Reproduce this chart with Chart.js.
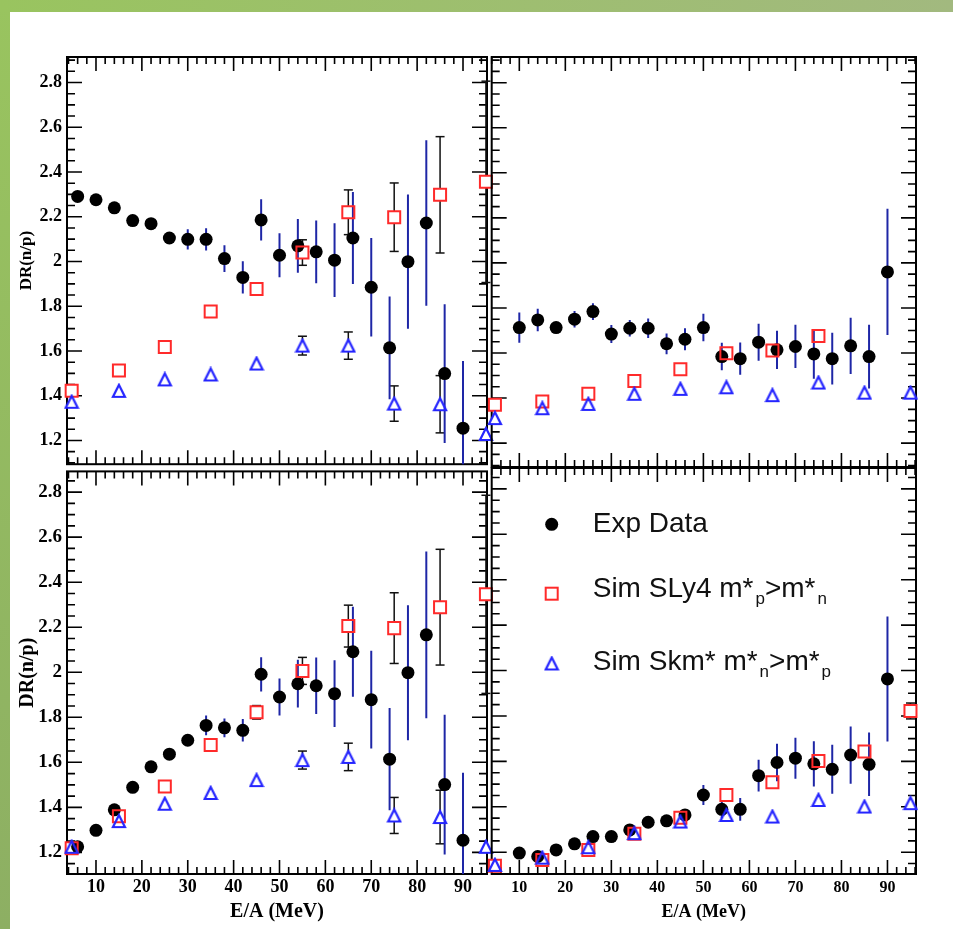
<!DOCTYPE html>
<html>
<head>
<meta charset="utf-8">
<title>DR(n/p) vs E/A</title>
<script src="https://cdn.jsdelivr.net/npm/chart.js@4.4.1/dist/chart.umd.min.js"></script>
<style>
  body { margin: 0; background: #fff; width: 953px; height: 929px; position: relative; overflow: hidden; }
  .band-left { position: absolute; left: 0; top: 0; width: 10px; height: 929px; background: linear-gradient(#99c45f, #8daf63); }
  .band-top { position: absolute; left: 0; top: 0; width: 953px; height: 12px; background: linear-gradient(to right, #99c45f, #a2b97f); }
  canvas { position: absolute; }
</style>
</head>
<body>
<div class="band-left"></div>
<div class="band-top"></div>
<canvas id="tl" width="500" height="440" style="left:0;top:40px"></canvas>
<canvas id="tr" width="473" height="440" style="left:480px;top:40px"></canvas>
<canvas id="bl" width="500" height="474" style="left:0;top:455px"></canvas>
<canvas id="br" width="473" height="474" style="left:480px;top:455px"></canvas>
<script>
// beam energies (MeV/nucleon)
const expEnergy = [6, 10, 14, 18, 22, 26, 30, 34, 38, 42, 46, 50, 54, 58, 62, 66, 70, 74, 78, 82, 86, 90];
const simEnergy = [4.7, 15, 25, 35, 45, 55, 65, 75, 85, 95];

const xTickValues = [10, 20, 30, 40, 50, 60, 70, 80, 90];
const xTickLabels = ['10', '20', '30', '40', '50', '60', '70', '80', '90'];
const yTickValues = [1.2, 1.4, 1.6, 1.8, 2.0, 2.2, 2.4, 2.6, 2.8];
const yTickLabels = ['1.2', '1.4', '1.6', '1.8', '2', '2.2', '2.4', '2.6', '2.8'];

// top left
const expTL = [2.291, 2.276, 2.240, 2.183, 2.169, 2.105, 2.099, 2.099, 2.013, 1.929, 2.186, 2.028, 2.070, 2.043, 2.006, 2.105, 1.885, 1.614, 1.999, 2.172, 1.499, 1.255];
const expErrTL = [0.02, 0.02, 0.02, 0.02, 0.02, 0.02, 0.045, 0.05, 0.06, 0.072, 0.092, 0.098, 0.12, 0.14, 0.165, 0.206, 0.22, 0.23, 0.30, 0.37, 0.31, 0.30];
const sly4TL = [1.422, 1.513, 1.618, 1.777, 1.877, 2.040, 2.220, 2.198, 2.298, 2.356];
const sly4ErrTL = [0, 0, 0, 0, 0.025, 0.057, 0.10, 0.153, 0.26, 0.45];
const skmTL = [1.373, 1.422, 1.473, 1.495, 1.544, 1.624, 1.624, 1.365, 1.362, 1.229];
const skmErrTL = [0, 0, 0, 0, 0, 0.042, 0.061, 0.079, 0.128, 0];

// top right
const expTR = [null, 1.713, 1.747, 1.713, 1.750, 1.784, 1.684, 1.710, 1.710, 1.641, 1.661, 1.713, 1.584, 1.575, 1.648, 1.614, 1.629, 1.596, 1.575, 1.632, 1.584, 1.960];
const expErrTR = [0, 0.067, 0.05, 0.02, 0.037, 0.037, 0.04, 0.037, 0.043, 0.046, 0.049, 0.061, 0.061, 0.072, 0.082, 0.085, 0.096, 0.11, 0.115, 0.125, 0.142, 0.28];
const sly4TR = [1.370, 1.385, 1.419, 1.476, 1.528, 1.599, 1.611, 1.676, null, null];
const skmTR = [1.311, 1.355, 1.374, 1.419, 1.441, 1.448, 1.413, 1.469, 1.424, 1.424];

// bottom left
const expBL = [1.225, 1.298, 1.389, 1.489, 1.580, 1.636, 1.698, 1.764, 1.753, 1.742, 1.991, 1.890, 1.949, 1.940, 1.905, 2.091, 1.878, 1.614, 1.998, 2.166, 1.501, 1.254];
const expErrBL = [0.02, 0.02, 0.02, 0.02, 0.02, 0.02, 0.02, 0.044, 0.042, 0.05, 0.076, 0.082, 0.106, 0.125, 0.148, 0.2, 0.217, 0.227, 0.30, 0.37, 0.31, 0.30];
const sly4BL = [1.218, 1.360, 1.493, 1.677, 1.822, 2.006, 2.205, 2.196, 2.289, 2.346];
const sly4ErrBL = [0, 0, 0, 0, 0.03, 0.06, 0.093, 0.157, 0.257, 0.44];
const skmBL = [1.225, 1.339, 1.416, 1.464, 1.521, 1.610, 1.624, 1.364, 1.357, 1.225];
const skmErrBL = [0, 0, 0, 0, 0, 0.04, 0.061, 0.08, 0.119, 0];

// bottom right
const expBR = [null, 1.196, 1.181, 1.210, 1.237, 1.269, 1.269, 1.298, 1.332, 1.338, 1.364, 1.452, 1.389, 1.389, 1.537, 1.595, 1.614, 1.589, 1.565, 1.628, 1.587, 1.963];
const expErrBR = [0, 0.02, 0.02, 0.02, 0.02, 0.02, 0.02, 0.02, 0.02, 0.02, 0.025, 0.044, 0.04, 0.05, 0.07, 0.083, 0.09, 0.1, 0.108, 0.126, 0.14, 0.275];
const sly4BR = [1.140, 1.166, 1.210, 1.281, 1.352, 1.452, 1.508, 1.602, 1.643, 1.822];
const sly4ErrBR = [0, 0, 0, 0, 0, 0, 0, 0, 0, 0.035];
const skmBR = [1.144, 1.176, 1.222, 1.284, 1.335, 1.364, 1.357, 1.430, 1.401, 1.416];

const legendRows = [
    [['Exp Data', false]],
    [['Sim SLy4 m*', false], ['p', true], ['>m*', false], ['n', true]],
    [['Sim Skm* m*', false], ['n', true], ['>m*', false], ['p', true]]
];

const SERIF = "'Liberation Serif', 'Times New Roman', serif";
const SANS = "'Liberation Sans', Arial, Helvetica, sans-serif";
const EXP_ERR = '#1e26a6';
const SLY4 = '#ff2a2a';
const SKM = '#2525ff';

// ROOT style open triangle, centred on its bounding box
function triangleImage(fill) {
    const c = document.createElement('canvas');
    c.width = 16; c.height = 16;
    const g = c.getContext('2d');
    g.beginPath();
    g.moveTo(8, 2); g.lineTo(14, 14); g.lineTo(2, 14); g.closePath();
    if (fill) {
        g.fillStyle = '#fff';
        g.fill();
    } else {
        g.strokeStyle = SKM;
        g.lineWidth = 2.2;
        g.stroke();
    }
    return c;
}
const triOpen = triangleImage(false);
const triFill = triangleImage(true);

function points(xs, ys) {
    return xs.map((x, i) => ({ x: x, y: ys[i] })).filter(p => p.y != null);
}

function errorBars(xs, ys, errs) {
    const out = [];
    xs.forEach((x, i) => {
        if (ys[i] == null || !errs[i]) return;
        out.push({ x: x, y: ys[i] - errs[i] }, { x: x, y: ys[i] + errs[i] }, { x: x, y: null });
    });
    return out;
}

function padSets(exp, expErr, sly4, sly4Err, skm, skmErr) {
    const sets = [
        { data: errorBars(expEnergy, exp, expErr), showLine: true, borderColor: EXP_ERR, borderWidth: 2, pointRadius: 0, clip: 0, order: 4 },
        { data: points(expEnergy, exp), pointStyle: 'circle', pointRadius: 6.5, pointBackgroundColor: '#000', pointBorderColor: '#000', pointBorderWidth: 0, clip: false, order: 3 },
        // white fills keep the error lines out of the open markers
        { data: points(simEnergy, sly4), pointStyle: 'rect', pointRadius: 8.5, pointBackgroundColor: '#fff', pointBorderWidth: 0, clip: false, order: 5 },
        { data: points(simEnergy, skm), pointStyle: triFill, pointRadius: 7, clip: false, order: 5 },
        { data: points(simEnergy, sly4), pointStyle: 'rect', pointRadius: 8.5, pointBackgroundColor: 'rgba(0,0,0,0)', pointBorderColor: SLY4, pointBorderWidth: 2, clip: false, order: 2 },
        { data: points(simEnergy, skm), pointStyle: triOpen, pointRadius: 7, clip: false, order: 1 }
    ];
    [[sly4, sly4Err], [skm, skmErr]].forEach(([ys, errs]) => {
        if (!errs) return;
        sets.push({ data: errorBars(simEnergy, ys, errs), showLine: true, borderColor: '#111', borderWidth: 1.5,
            pointStyle: 'line', pointRadius: 4.5, pointBorderColor: '#111', pointBorderWidth: 1.5, clip: false, order: 6 });
    });
    return sets;
}

// frame with inward ticks on all four sides
const rootFrame = {
    id: 'rootFrame',
    beforeDatasetsDraw(chart) {
        const { ctx, chartArea: a, scales: { x, y } } = chart;
        ctx.save();
        ctx.strokeStyle = '#000';
        ctx.lineWidth = 1.6;
        ctx.beginPath();
        for (let v = Math.ceil(x.min / 2) * 2; v <= x.max; v += 2) {
            const px = x.getPixelForValue(v);
            const len = v % 10 === 0 ? 14 : 7;
            ctx.moveTo(px, a.bottom); ctx.lineTo(px, a.bottom - len);
            ctx.moveTo(px, a.top); ctx.lineTo(px, a.top + len);
        }
        for (let k = Math.ceil(y.min * 20); k <= Math.floor(y.max * 20); k++) {
            const py = y.getPixelForValue(k / 20);
            const len = k % 4 === 0 ? 15 : 8;
            ctx.moveTo(a.left, py); ctx.lineTo(a.left + len, py);
            ctx.moveTo(a.right, py); ctx.lineTo(a.right - len, py);
        }
        ctx.stroke();
        ctx.lineWidth = 2;
        ctx.strokeRect(a.left, a.top, a.right - a.left, a.bottom - a.top);
        ctx.restore();
    }
};

const rootLegend = {
    id: 'rootLegend',
    afterDraw(chart) {
        const { ctx, chartArea: a } = chart;
        const mx = a.left + 60;
        const markerY = [56.3, 125.7, 195.5];
        const baseY = [63.7, 129.3, 202];
        ctx.save();
        ctx.fillStyle = '#000';
        ctx.beginPath();
        ctx.arc(mx, a.top + markerY[0], 6.5, 0, Math.PI * 2);
        ctx.fill();
        ctx.strokeStyle = SLY4;
        ctx.lineWidth = 2;
        ctx.strokeRect(mx - 6, a.top + markerY[1] - 6, 12, 12);
        ctx.drawImage(triOpen, mx - 8, a.top + markerY[2] - 8);

        ctx.fillStyle = '#111';
        ctx.textBaseline = 'alphabetic';
        legendRows.forEach((row, r) => {
            let tx = a.left + 101;
            row.forEach(([text, sub]) => {
                if (sub) tx += 2;
                ctx.font = (sub ? 17 : 28) + 'px ' + SANS;
                ctx.fillText(text, tx, a.top + baseY[r] + (sub ? 7 : 0));
                tx += ctx.measureText(text).width;
            });
        });
        ctx.restore();
    }
};

function xScale(cfg) {
    const s = { type: 'linear', min: cfg.xMin, max: cfg.xMax, display: !!cfg.xAxis,
        grid: { display: false, drawTicks: false }, border: { display: false } };
    if (cfg.xAxis) {
        Object.assign(s, {
            afterBuildTicks: sc => { sc.ticks = xTickValues.map(v => ({ value: v })); },
            afterFit: sc => { sc.height = cfg.xAxis.height; },
            ticks: { autoSkip: false, maxRotation: 0, padding: cfg.xAxis.labelPad, color: '#000',
                font: { family: SERIF, weight: 'bold', size: cfg.xAxis.labelSize },
                callback: (v, i) => xTickLabels[i] },
            title: { display: true, text: 'E/A (MeV)', color: '#000',
                font: { family: SERIF, weight: 'bold', size: cfg.xAxis.titleSize },
                padding: { top: 0, bottom: cfg.xAxis.titlePad } }
        });
    }
    return s;
}

function yScale(cfg) {
    const s = { type: 'linear', min: cfg.yMin, max: cfg.yMax, display: !!cfg.yAxis,
        grid: { display: false, drawTicks: false }, border: { display: false } };
    if (cfg.yAxis) {
        Object.assign(s, {
            afterBuildTicks: sc => { sc.ticks = yTickValues.map(v => ({ value: v })); },
            afterFit: sc => { sc.width = cfg.yAxis.width; },
            ticks: { autoSkip: false, padding: 5, color: '#000',
                font: { family: SERIF, weight: 'bold', size: cfg.yAxis.labelSize },
                callback: (v, i) => yTickLabels[i] },
            title: { display: true, text: 'DR(n/p)', color: '#000',
                font: { family: SERIF, weight: 'bold', size: cfg.yAxis.titleSize },
                padding: { top: cfg.yAxis.titlePad, bottom: 0 } }
        });
    }
    return s;
}

function makePad(cfg) {
    new Chart(document.getElementById(cfg.id), {
        type: 'scatter',
        data: { datasets: cfg.sets },
        options: {
            responsive: false,
            animation: false,
            devicePixelRatio: 1,
            events: [],
            layout: { padding: cfg.pad },
            plugins: { legend: { display: false }, tooltip: { enabled: false } },
            scales: { x: xScale(cfg), y: yScale(cfg) }
        },
        plugins: cfg.legend ? [rootFrame, rootLegend] : [rootFrame]
    });
}

makePad({
    id: 'tl', xMin: 3.68, xMax: 95.23, yMin: 1.094, yMax: 2.914,
    pad: { left: 0, top: 17, right: 13, bottom: 13 },
    yAxis: { width: 67, labelSize: 18, titleSize: 17, titlePad: 16.5 },
    sets: padSets(expTL, expErrTL, sly4TL, sly4ErrTL, skmTL, skmErrTL)
});
makePad({
    id: 'tr', xMin: 4.0, xMax: 96.2, yMin: 1.094, yMax: 2.914,
    pad: { left: 11.7, top: 17, right: 37, bottom: 13 },
    sets: padSets(expTR, expErrTR, sly4TR, null, skmTR, null)
});
makePad({
    id: 'bl', xMin: 3.68, xMax: 95.23, yMin: 1.104, yMax: 2.892,
    pad: { left: 0, top: 13, right: 13, bottom: 0 },
    yAxis: { width: 67, labelSize: 19, titleSize: 20, titlePad: 16 },
    xAxis: { height: 55, labelSize: 18, labelPad: 3, titleSize: 20, titlePad: 5 },
    sets: padSets(expBL, expErrBL, sly4BL, sly4ErrBL, skmBL, skmErrBL)
});
makePad({
    id: 'br', xMin: 4.0, xMax: 96.2, yMin: 1.104, yMax: 2.892,
    pad: { left: 11.7, top: 13, right: 37, bottom: 0 },
    xAxis: { height: 55, labelSize: 16, labelPad: 4.5, titleSize: 18, titlePad: 6 },
    legend: true,
    sets: padSets(expBR, expErrBR, sly4BR, sly4ErrBR, skmBR, null)
});
</script>
</body>
</html>
